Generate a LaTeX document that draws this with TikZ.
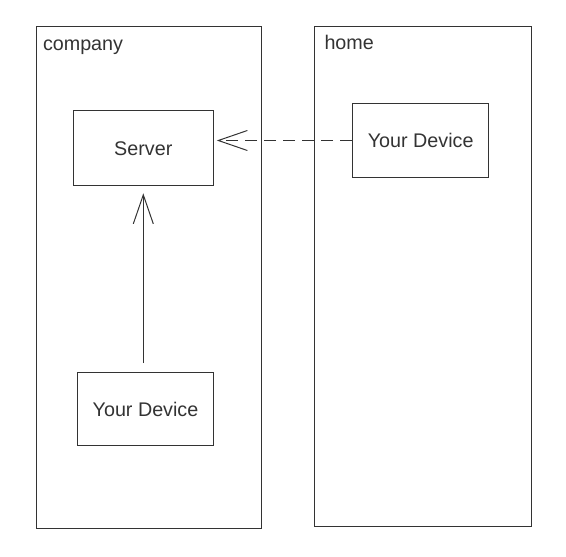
\documentclass[tikz,border=0pt]{standalone}
\usepackage{fontspec}
\setmainfont{Liberation Sans}
\usetikzlibrary{arrows.meta}
\definecolor{linegray}{RGB}{51,51,51}

\tikzset{every picture/.style={line width=0.75pt}}
\tikzset{
  zonebox/.style={draw=linegray, minimum width=#1},
  devbox/.style={draw=linegray, inner sep=0pt, font=\fontsize{14.8}{17}\selectfont, text=linegray},
  zonelabel/.style={anchor=base west, inner sep=0pt, font=\fontsize{14.8}{17}\selectfont, text=linegray},
  openhead/.style={-{Straight Barb[length=21.75pt,width=15pt,line width=0.75pt]}, draw=linegray}
}

\begin{document}
\begin{tikzpicture}[x=0.75pt,y=0.75pt,yscale=-1,xscale=1]
\useasboundingbox (0,0) rectangle (566,556);

%Shape: Rectangle [company]
\node [zonebox=168.75pt, minimum height=375.75pt] (company) at (148.5,277.5) {};
%Shape: Rectangle [home]
\node [zonebox=162.75pt, minimum height=374.25pt] (home) at (422.5,276.5) {};

%Shape: Rectangle [server]
\node [devbox, minimum width=105pt, minimum height=56.25pt] (server) at (143.3,148.3) {Server};
%Shape: Rectangle [device at home]
\node [devbox, minimum width=102pt, minimum height=54.75pt] (homedev) at (420.7,140.5) {Your Device};
%Shape: Rectangle [device at company]
\node [devbox, minimum width=101.7pt, minimum height=54.75pt] (workdev) at (145.5,409.2) {Your Device};

%Shape: Boxed Line [company link]
\draw [openhead, shorten <=6.75pt, shorten >=5.25pt] (workdev.north -| server.south) -- (server.south);
%Shape: Boxed Line [home link]
\draw [openhead, dash pattern=on 9pt off 5.25pt, shorten >=2.25pt] (homedev.west) -- (homedev.west -| server.east);

% Text Node
\node [zonelabel] (lblcompany) at (42.5,51) {company};
% Text Node
\node [zonelabel] (lblhome) at (324,50) {home};

\end{tikzpicture}
\end{document}
